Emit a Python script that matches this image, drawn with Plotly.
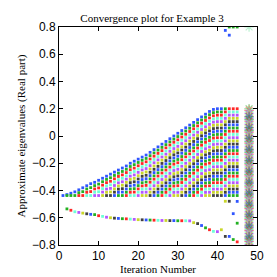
import numpy as np
import plotly.graph_objects as go

# ---- data ----
iterations = list(range(1, 46))
# largest Ritz value of the main band per iteration (blue, top of each column)
band_top = [-0.437, -0.43, -0.42, -0.41, -0.395, -0.38, -0.365, -0.35, -0.34, -0.325,
            -0.31, -0.295, -0.28, -0.265, -0.25, -0.235, -0.22, -0.20, -0.185, -0.17,
            -0.155, -0.14, -0.12, -0.10, -0.08, -0.06, -0.04, -0.02, 0.0, 0.02,
            0.04, 0.06, 0.08, 0.10, 0.12, 0.14, 0.16, 0.18, 0.195, 0.2,
            0.2, 0.2, 0.2, 0.2, 0.2]
band_floor = -0.437
# number of distinct rows visible in each column of the band
band_rows = [1, 2, 2, 2, 3, 3, 4, 4, 5, 5,
             6, 7, 7, 8, 9, 9, 10, 11, 11, 12,
             13, 13, 14, 15, 16, 17, 18, 19, 20, 20,
             21, 22, 23, 24, 25, 26, 27, 27, 28, 28,
             28, 28, 28, 28, 28]
# colour index of the top row per column
band_first = [1] * 41 + [2, 3, 3, 3]
# smallest Ritz value per iteration k = 2..45
trail_iter = list(range(2, 46))
trail_vals = [-0.535, -0.545, -0.556, -0.561, -0.566, -0.571, -0.575, -0.577, -0.585, -0.59,
              -0.596, -0.60, -0.603, -0.605, -0.607, -0.608, -0.61, -0.612, -0.614, -0.615,
              -0.616, -0.617, -0.618, -0.619, -0.62, -0.62, -0.621, -0.621, -0.622, -0.622,
              -0.622, -0.623, -0.636, -0.643, -0.657, -0.674, -0.688, -0.70, -0.702, -0.688,
              -0.737, -0.737, -0.76, -0.777]
# isolated Ritz values in the last iterations
extra_iter = [42, 42, 43, 43, 43, 44, 44, 45, 45, 45]
extra_index = [1, 41, 1, 2, 42, 2, 43, 2, 43, 44]
extra_vals = [0.775, -0.479, 0.74, 0.8, -0.479, 0.8, -0.57, 0.8, -0.48, -0.64]
# exact eigenvalues, drawn at x = 48
exact_x = 48
exact_top, exact_bottom, exact_count = 0.2, -0.82, 90
exact_extra = [0.8]

palette = ['#2f55ff', '#22b022', '#ff2626', '#6effd6', '#b455ff', '#c9d62a', '#404040']

xs, ys, cs = [], [], []
for i, k in enumerate(iterations):
    n = band_rows[i]
    vals = np.linspace(band_top[i], band_floor, n) if n > 1 else [band_top[i]]
    for r, v in enumerate(vals):
        j = band_first[i] + r
        xs.append(k); ys.append(v); cs.append(palette[(j - 1) % 7])
for k, v in zip(trail_iter, trail_vals):
    xs.append(k); ys.append(v); cs.append(palette[(k - 1) % 7])
for k, j, v in zip(extra_iter, extra_index, extra_vals):
    xs.append(k); ys.append(v); cs.append(palette[(j - 1) % 7])

ex_vals = list(np.linspace(exact_top, exact_bottom, exact_count)) + exact_extra
ex_cols = [palette[(j + 1) % 7] for j in range(len(ex_vals))]
ex_cols[-1] = '#7de8a8'

fig = go.Figure()
fig.add_trace(go.Scatter(
    x=[exact_x] * len(ex_vals), y=ex_vals, mode='markers',
    marker=dict(symbol='asterisk-open', size=8, color=ex_cols,
                line=dict(color=ex_cols, width=1.2), opacity=0.5),
    showlegend=False, cliponaxis=True))
fig.add_trace(go.Scatter(
    x=xs, y=ys, mode='markers',
    marker=dict(symbol='square', size=2.8, color=cs, line=dict(width=0)),
    showlegend=False, cliponaxis=True))

axis_common = dict(showline=True, linecolor='black', linewidth=1, mirror='ticks',
                   ticks='inside', ticklen=4, tickcolor='black', showgrid=False,
                   zeroline=False, tickfont=dict(family='Liberation Sans', size=12, color='black'))
fig.update_xaxes(range=[0, 50], dtick=10, tick0=0,
                 title=dict(text='Iteration Number', standoff=2,
                            font=dict(family='Liberation Serif', size=11, color='black')),
                 **axis_common)
fig.update_yaxes(range=[-0.8, 0.8], dtick=0.2, tick0=0,
                 title=dict(text='Approximate eigenvalues (Real part)', standoff=4,
                            font=dict(family='Liberation Serif', size=11, color='black')),
                 **axis_common)
fig.update_layout(
    width=277, height=277,
    margin=dict(l=41, r=28, t=19, b=30),
    paper_bgcolor='white', plot_bgcolor='white',
    title=dict(text='Convergence plot for Example 3', x=0.52, xanchor='center',
               y=0.965, yanchor='middle',
               font=dict(family='Liberation Serif', size=11, color='black')),
)
fig.write_html('out.html')
